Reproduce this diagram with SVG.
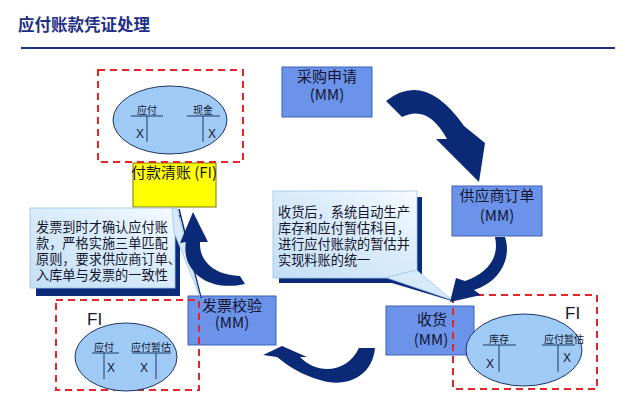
<svg xmlns="http://www.w3.org/2000/svg" width="640" height="402" viewBox="0 0 640 402">
<defs>
<linearGradient id="cg" x1="0" y1="1" x2="1" y2="0">
<stop offset="0" stop-color="#c3def5"/>
<stop offset="0.6" stop-color="#dcedfb"/>
<stop offset="1" stop-color="#f6fbff"/>
</linearGradient>
<style>
text{font-family:"Noto Sans CJK SC","Noto Sans",sans-serif;fill:#15152e}
.mm{fill:#6b93ea;stroke:#3d62b5;stroke-width:1}
.mt{font-size:15px;text-anchor:middle}
.ct{font-size:13.2px}
.dash{fill:none;stroke:#e5252a;stroke-width:2;stroke-dasharray:7 5}
.ell{fill:#9fcaf6;stroke:#1f3564;stroke-width:1}
.tl{stroke:#1f3564;stroke-width:1;fill:none}
.ta{font-size:10px;text-anchor:middle}
.tx{font-size:12px;text-anchor:middle;font-family:"Liberation Sans",sans-serif}
.fi{font-size:17px;font-family:"Liberation Sans",sans-serif}
.arr{fill:#0a2a78}
.shadow{fill:#0b2a7a}
.cbox{fill:url(#cg);stroke:#9cc4e6;stroke-width:0.8}
</style>
</defs>
<rect width="640" height="402" fill="#ffffff"/>
<g id="title">
<text x="18" y="31" style="font-size:16.5px;font-weight:bold;fill:#1f2f86">应付账款凭证处理</text>
<line x1="21" y1="48" x2="615" y2="48" stroke="#1f2f86" stroke-width="2"/>
</g>
<g id="node-cgsq">
<rect class="mm" x="282" y="67" width="90" height="50"/>
<text class="mt" x="327" y="82">采购申请</text>
<text class="mt" x="327" y="100">(MM)</text>
</g>
<g id="node-gysdd">
<rect class="mm" x="452" y="186" width="90" height="50"/>
<text class="mt" x="497" y="201">供应商订单</text>
<text class="mt" x="497" y="221">(MM)</text>
</g>
<g id="node-sh">
<rect class="mm" x="386" y="306" width="88" height="49"/>
<text class="mt" x="432" y="325">收货</text>
<text class="mt" x="431" y="345">(MM)</text>
</g>
<g id="node-fpjy">
<rect class="mm" x="188" y="296" width="88" height="49"/>
<text class="mt" x="232" y="311">发票校验</text>
<text class="mt" x="232" y="328">(MM)</text>
</g>
<g id="node-fkqz">
<rect x="133" y="163" width="83" height="44" fill="#ffff00" stroke="#7f7a00" stroke-width="1"/>
<text x="174" y="178" style="font-size:15px;text-anchor:middle">付款清账 (FI)</text>
</g>
<g id="fi-top">
<rect class="dash" x="98" y="70" width="145" height="92"/>
<ellipse class="ell" cx="170" cy="120" rx="57" ry="34"/>
<text class="ta" x="147" y="114">应付</text>
<text class="ta" x="203" y="114">现金</text>
<path class="tl" d="M131 116H163M147 116V142M187 116H220M203 116V142"/>
<text class="tx" x="140" y="138">X</text>
<text class="tx" x="212" y="138">X</text>
</g>
<g id="fi-left">
<rect class="dash" x="56" y="300" width="143" height="90"/>
<text class="fi" x="87" y="325">FI</text>
<ellipse class="ell" cx="126" cy="357" rx="51" ry="34"/>
<text class="ta" x="104" y="351">应付</text>
<text class="ta" x="151" y="351">应付暂估</text>
<path class="tl" d="M92 353H119M104 353V379M132 353H171M156 353V379"/>
<text class="tx" x="111" y="372">X</text>
<text class="tx" x="144" y="372">X</text>
</g>
<g id="fi-right">
<ellipse class="ell" cx="524" cy="350" rx="58" ry="36"/>
<rect class="dash" x="453" y="295" width="144" height="94"/>
<text class="fi" x="565" y="319">FI</text>
<text class="ta" x="499" y="343">库存</text>
<text class="ta" x="564" y="343">应付暂估</text>
<path class="tl" d="M483 345H516M499 345V372M542 345H575M558 345V372"/>
<text class="tx" x="490" y="368">X</text>
<text class="tx" x="567" y="362">X</text>
</g>
<g id="callout-left">
<rect class="shadow" x="36" y="215" width="144" height="81"/>
<line x1="179" y1="209" x2="201" y2="298" stroke="#0b2a7a" stroke-width="1.5"/>
<rect class="cbox" x="30" y="208" width="145" height="80"/>
<polygon points="172,208.5 177,208.5 200,297 174,232" fill="#d6eaf9" stroke="#9cc4e6" stroke-width="0.8"/>
<text class="ct" x="36" y="232">发票到时才确认应付账</text>
<text class="ct" x="36" y="248">款，严格实施三单匹配</text>
<text class="ct" x="36" y="264">原则，要求供应商订单、</text>
<text class="ct" x="36" y="280">入库单与发票的一致性</text>
</g>
<g id="callout-right">
<rect class="shadow" x="279" y="197" width="143" height="86"/>
<polygon points="392,283 421,276 452,301" fill="#0b2a7a"/>
<rect class="cbox" x="273" y="191" width="144" height="87"/>
<polygon points="386,277.5 416.5,270 452,300" fill="#d6eaf9" stroke="#9cc4e6" stroke-width="0.8"/>
<text class="ct" x="278" y="217">收货后，系统自动生产</text>
<text class="ct" x="278" y="233">库存和应付暂估科目，</text>
<text class="ct" x="278" y="249">进行应付账款的暂估并</text>
<text class="ct" x="278" y="265">实现料账的统一</text>
</g>
<g id="connectors">
<path class="arr" d="M386 101 Q425 70 464 126 L485 143 L479 182 L436 139 L447 139 Q428 104 402 117 Z"/>
<path class="arr" d="M495 237 L505 237 C512 258 500 282 474 290 L481 295 L450 302 L456 278 L465 281 C485 274 500 260 495 237 Z"/>
<path class="arr" d="M263 355 L282 346 L307 357 L300 357 C318 376 348 372 359 348 L375 348 C372 378 345 388 320 380 C302 375 288 366 277 357 Z"/>
<path class="arr" d="M193 212 L208 242 L200 242 C199 262 215 275 240 276 L245 284 C205 293 181 268 186 242 L180 243 Z"/>
</g>
</svg>
